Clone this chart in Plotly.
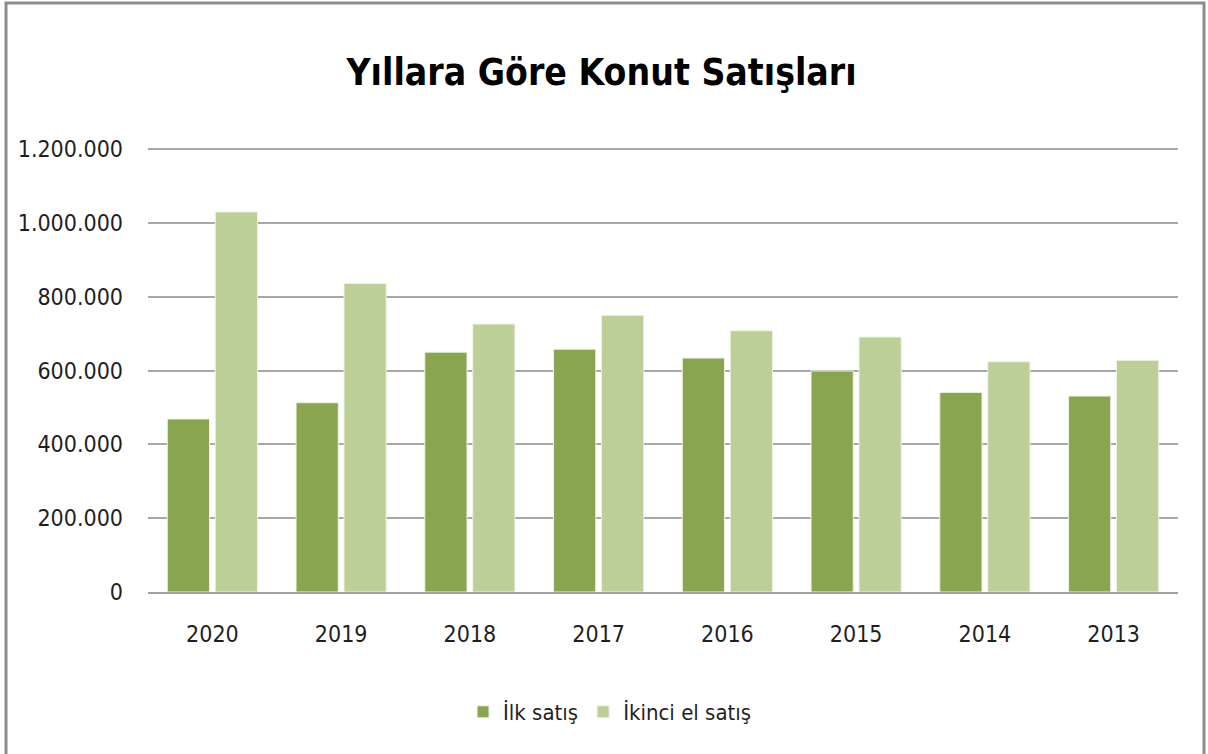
import plotly.graph_objects as go

years = ["2020", "2019", "2018", "2017", "2016", "2015", "2014", "2013"]
ilk_satis = [469000, 513000, 650000, 658000, 634000, 599000, 541000, 531000]
ikinci_el = [1030000, 836000, 726000, 750000, 708000, 691000, 624000, 628000]
y_ticks = [0, 200000, 400000, 600000, 800000, 1000000, 1200000]

FONT = "Liberation Sans Narrow, DejaVu Sans Condensed, Arial Narrow, sans-serif"

fig = go.Figure()
fig.add_trace(go.Bar(
    x=years, y=ilk_satis, name="İlk satış",
    marker=dict(color="#8aa54f", line=dict(color="#eef3e4", width=1)),
))
fig.add_trace(go.Bar(
    x=years, y=ikinci_el, name="İkinci el satış",
    marker=dict(color="#bbcf97", line=dict(color="#eef3e4", width=1)),
))

fig.update_layout(
    width=1208, height=754,
    margin=dict(l=148, r=30, t=147, b=162, autoexpand=False),
    paper_bgcolor="white", plot_bgcolor="white",
    separators=",.",
    barmode="group", bargap=0.255, bargroupgap=0.12,
    font=dict(family=FONT, size=23, color="#1f1f1f"),
    title=dict(text="<b>Yıllara Göre Konut Satışları</b>",
               font=dict(family=FONT, size=37, color="black"),
               x=0.498, xanchor="center", xref="container",
               y=1 - 72 / 754, yanchor="middle", yref="container"),
    legend=dict(orientation="h", x=0.505, xanchor="center", xref="container",
                y=1 - 712 / 754, yanchor="middle", yref="container",
                font=dict(family=FONT, size=22, color="#1f1f1f"),
                itemwidth=30, tracegroupgap=0),
    showlegend=True,
)
fig.update_xaxes(type="category", showline=True, linecolor="#a0a0a0", linewidth=2,
                 showgrid=False, ticks="", ticklabelstandoff=20, automargin=False,
                 tickfont=dict(family=FONT, size=23, color="#1f1f1f"))
fig.update_yaxes(range=[0, 1206000], tickvals=y_ticks, tickformat=",d",
                 showgrid=True, gridcolor="#a8a8a8", gridwidth=1.5,
                 zeroline=False, showline=False, ticks="", ticklabelstandoff=24,
                 automargin=False,
                 tickfont=dict(family=FONT, size=23, color="#1f1f1f"))

fig.add_shape(type="rect", xref="paper", yref="paper",
              xsizemode="pixel", ysizemode="pixel", xanchor=0, yanchor=0,
              x0=-142, x1=1056, y0=-175, y1=589,
              line=dict(color="#8c8c8c", width=3), fillcolor="rgba(0,0,0,0)", layer="above")

fig.write_html("out.html", config={"displayModeBar": False},
               post_script="document.body.style.margin='0';")
